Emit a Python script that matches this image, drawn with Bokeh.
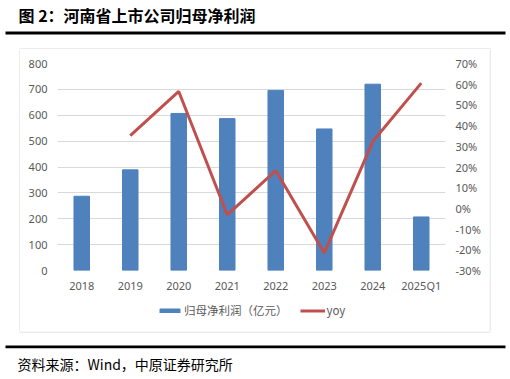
from bokeh.plotting import figure
from bokeh.layouts import column, row
from bokeh.models import (Range1d, LinearAxis, FixedTicker, PrintfTickFormatter,
                          Legend, LegendItem)
from bokeh.embed import file_html
from bokeh.resources import INLINE
from bokeh.core.properties import value

categories = ["2018", "2019", "2020", "2021", "2022", "2023", "2024", "2025Q1"]
profit = [287, 389, 607, 587, 696, 547, 720, 207]
yoy_years = ["2019", "2020", "2021", "2022", "2023", "2024", "2025Q1"]
yoy = [35.2, 56.5, -3.1, 18.3, -21.6, 32.3, 60.5]
left_ticks = [0, 100, 200, 300, 400, 500, 600, 700, 800]
right_ticks = [-30, -20, -10, 0, 10, 20, 30, 40, 50, 60, 70]
title_text = "图 2：河南省上市公司归母净利润"
source_text = "资料来源：Wind，中原证券研究所"
bar_label = "归母净利润（亿元）"
line_label = "yoy"

BLUE = "#4F81BD"
RED = "#C0504D"
GRID = "#D9D9D9"
TXT = "#595959"
FONT = "Noto Sans"
CJK = "Noto Sans CJK SC"
NAN = float("nan")

TOTAL_W, HEAD_H, MAIN_H, LEG_H, FOOT_H = 510, 49, 247, 35, 48
MID_H = MAIN_H + LEG_H
LEFT_W, MAIN_W = 20, 469
RIGHT_W = TOTAL_W - LEFT_W - MAIN_W


def deco_fig(w, h):
    f = figure(width=w, height=h, x_range=Range1d(0, w), y_range=Range1d(h, 0),
               output_backend="svg", toolbar_location=None, title=None,
               x_axis_location=None, y_axis_location=None, min_border=0)
    f.outline_line_color = None
    f.background_fill_color = "white"
    f.border_fill_color = "white"
    f.xgrid.visible = False
    f.ygrid.visible = False
    return f


# header: title, black rule, top edge of chart box
head = deco_fig(TOTAL_W, HEAD_H)
head.text(x=[18], y=[14.5], text=[title_text], text_font=value(CJK),
          text_font_size=value("16px"), text_font_style="bold",
          text_color="black", text_baseline="middle", text_align="left")
head.quad(left=[5], right=[505], top=[31], bottom=[34], color="black", line_color=None)
head.quad(left=[19], right=[490], top=[48], bottom=[49], color=GRID, line_color=None)

# side strips: left/right edges of chart box
lstrip = deco_fig(LEFT_W, MID_H)
lstrip.quad(left=[19], right=[20], top=[0], bottom=[MID_H], color=GRID, line_color=None)
rstrip = deco_fig(RIGHT_W, MID_H)
rstrip.quad(left=[0], right=[1], top=[0], bottom=[MID_H], color=GRID, line_color=None)

# footer: bottom edge of chart box, black rule, source
foot = deco_fig(TOTAL_W, FOOT_H)
foot.quad(left=[19], right=[490], top=[0], bottom=[1], color=GRID, line_color=None)
foot.quad(left=[5], right=[505], top=[14], bottom=[16.7], color="black", line_color=None)
foot.text(x=[17], y=[32], text=[source_text], text_font=value(CJK),
          text_font_size=value("14px"), text_color="black",
          text_baseline="middle", text_align="left")

# main chart
FL, FR, FT, FB = 37, 425, 14, 221
p = figure(width=MAIN_W, height=MAIN_H, x_range=categories, y_range=Range1d(0, 800),
           output_backend="svg", toolbar_location=None, title=None,
           min_border_left=FL, min_border_right=MAIN_W - FR,
           min_border_top=FT, min_border_bottom=MAIN_H - FB)
p.outline_line_color = None
p.background_fill_color = "white"
p.border_fill_color = "white"
p.xgrid.grid_line_color = None
p.ygrid.grid_line_color = GRID
p.ygrid.grid_line_width = 1
p.ygrid.ticker = FixedTicker(ticks=left_ticks)

p.extra_y_ranges = {"yoy": Range1d(-30, 70)}

bars = p.vbar(x=categories, top=profit, width=0.32, color=BLUE, line_color=BLUE)
line = p.line(x=yoy_years, y=yoy, y_range_name="yoy", color=RED, line_width=3)


def style_axis(ax):
    ax.axis_line_color = None
    ax.major_tick_line_color = None
    ax.minor_tick_line_color = None
    ax.major_tick_out = 0
    ax.major_tick_in = 0
    ax.major_label_text_font = FONT
    ax.major_label_text_font_size = "11px"
    ax.major_label_text_color = TXT


yl = p.yaxis[0]
yl.ticker = FixedTicker(ticks=left_ticks)
style_axis(yl)
yl.major_label_standoff = 10

yr = LinearAxis(y_range_name="yoy", ticker=FixedTicker(ticks=right_ticks),
                formatter=PrintfTickFormatter(format="%d%%"))
style_axis(yr)
yr.major_label_standoff = 10
p.add_layout(yr, "right")

xa = p.xaxis[0]
style_axis(xa)
xa.major_label_standoff = 7

# legend strip (keys drawn from invisible renderers styled like the series)
leg = deco_fig(MAIN_W, LEG_H)
k_bar = leg.vbar(x=[NAN], top=[NAN], width=0.32, color=BLUE, line_color=BLUE)
k_line = leg.line(x=[NAN], y=[NAN], color=RED, line_width=3)
legend = Legend(items=[LegendItem(label=bar_label, renderers=[k_bar]),
                       LegendItem(label=line_label, renderers=[k_line])],
                location=(100, 13), orientation="horizontal",
                glyph_width=25, glyph_height=5, label_standoff=2, spacing=12,
                padding=0, margin=0, border_line_color=None,
                background_fill_alpha=0, label_text_font=CJK,
                label_text_font_size="11.5px", label_text_color=TXT,
                label_height=14)
leg.add_layout(legend, "center")

layout = column(head, row(lstrip, column(p, leg), rstrip), foot)

open("out.html", "w").write(file_html(layout, INLINE))
